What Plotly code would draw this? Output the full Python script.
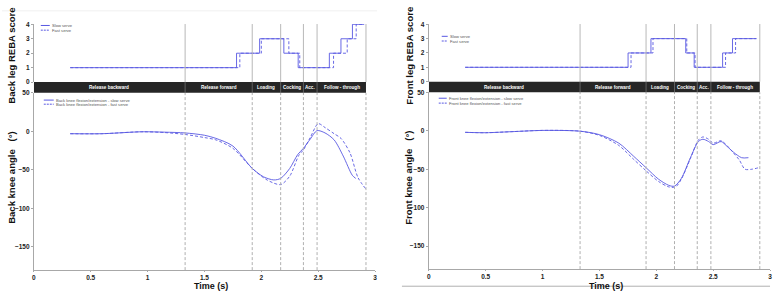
import plotly.graph_objects as go

W, H = 779, 298
BLUE = "#5858e2"
GREY = "#a8a8a8"
FONT = "Liberation Sans"

# ---------------- data ----------------
phase_names = ["Release backward", "Release forward", "Loading", "Cocking", "Acc.", "Follow - through"]
back_phase_bounds = [0, 1.33, 1.92, 2.17, 2.37, 2.49, 2.92]
front_phase_bounds = [0, 1.33, 1.91, 2.16, 2.36, 2.48, 2.91]

# Back leg REBA score (step series)
back_reba_slow_t = [0.32, 1.782, 1.985, 2.198, 2.324, 2.598, 2.700, 2.801, 2.904]
back_reba_slow_v = [1, 2, 3, 2, 1, 2, 3, 4, 4]
back_reba_fast_t = [0.32, 1.811, 2.000, 2.242, 2.338, 2.635, 2.755, 2.834, 2.904]
back_reba_fast_v = [1, 2, 3, 2, 1, 2, 3, 4, 4]

# Front leg REBA score
front_reba_slow_t = [0.32, 1.752, 1.953, 2.259, 2.333, 2.583, 2.670, 2.88]
front_reba_slow_v = [1, 2, 3, 2, 1, 2, 3, 3]
front_reba_fast_t = [0.32, 1.778, 1.971, 2.268, 2.341, 2.609, 2.697, 2.88]
front_reba_fast_v = [1, 2, 3, 2, 1, 2, 3, 3]

# Back knee angle (deg)
back_slow_t = [0.32, 0.6, 0.95, 1.15, 1.33, 1.5, 1.6, 1.75, 1.92, 2.02, 2.11, 2.17, 2.25, 2.32,
               2.37, 2.43, 2.49, 2.56, 2.64, 2.72, 2.80, 2.83]
back_slow_v = [-3, -3, -0.5, -1, -2, -5, -9, -19, -48, -59, -63, -61, -48, -30,
               -22, -10, 1, -2, -11, -32, -57, -61]
back_fast_t = [0.32, 0.6, 0.95, 1.15, 1.33, 1.5, 1.6, 1.75, 1.92, 2.05, 2.17, 2.25, 2.33, 2.37,
               2.43, 2.5, 2.56, 2.64, 2.70, 2.78, 2.85, 2.92]
back_fast_v = [-3, -3, -0.5, -1.5, -4, -8, -11, -22, -48, -63, -69, -58, -31, -24,
               -8, 10, 5, -3, -9, -28, -60, -75]

# Front knee angle (deg)
front_slow_t = [0.32, 0.5, 0.75, 1.0, 1.33, 1.5, 1.67, 1.8, 1.91, 2.02, 2.11, 2.16, 2.22, 2.3,
                2.37, 2.41, 2.46, 2.5, 2.57, 2.62, 2.68, 2.75, 2.81]
front_slow_v = [-2, -2.5, -1, 0.5, -0.5, -5, -16, -33, -48, -63, -71, -72, -62, -35,
                -14, -11, -14, -18, -14, -20, -28, -35, -35]
front_fast_t = [0.32, 0.5, 0.75, 1.0, 1.33, 1.5, 1.67, 1.8, 1.91, 2.02, 2.11, 2.17, 2.22, 2.3,
                2.37, 2.41, 2.46, 2.5, 2.57, 2.62, 2.68, 2.73, 2.78, 2.84, 2.90]
front_fast_v = [-2, -2.5, -1, 0.5, -0.5, -6, -19, -37, -52, -66, -73, -73, -63, -36,
                -12, -8, -11, -16, -13, -19, -29, -38, -50, -50, -48]

x_ticks = [0, 0.5, 1, 1.5, 2, 2.5, 3]
x_ticktext = ["0", "0.5", "1", "1.5", "2", "2.5", "3"]
reba_ticks = [0, 1, 2, 3, 4]
angle_ticks = [-150, -100, -50, 0, 50]


def px(x):
    return x / W


def py(y):
    return 1 - y / H


fig = go.Figure()


def add_pair(ts, vs, tf, vf, xa, ya, shape):
    sm = 0.8 if shape == "spline" else None
    fig.add_trace(go.Scatter(x=ts, y=vs, mode="lines", xaxis=xa, yaxis=ya,
                             line=dict(color=BLUE, width=0.9, shape=shape, smoothing=sm),
                             showlegend=False, hoverinfo="skip"))
    fig.add_trace(go.Scatter(x=tf, y=vf, mode="lines", xaxis=xa, yaxis=ya,
                             line=dict(color=BLUE, width=0.9, dash="3px,2px", shape=shape, smoothing=sm),
                             showlegend=False, hoverinfo="skip"))


add_pair(back_reba_slow_t, back_reba_slow_v, back_reba_fast_t, back_reba_fast_v, "x", "y", "hv")
add_pair(back_slow_t, back_slow_v, back_fast_t, back_fast_v, "x2", "y2", "spline")
add_pair(front_reba_slow_t, front_reba_slow_v, front_reba_fast_t, front_reba_fast_v, "x3", "y3", "hv")
add_pair(front_slow_t, front_slow_v, front_fast_t, front_fast_v, "x4", "y4", "spline")

tickfont = dict(family=FONT, size=6.5, color="#222", weight="bold")

panels = {
    "left": dict(x0=32, x1=375, top_t=20.5, top_b=80, bot_t=91, bot_b=272.5,
                 xa_top="x", ya_top="y", xa_bot="x2", ya_bot="y2", bounds=back_phase_bounds),
    "right": dict(x0=429, x1=772, top_t=20.5, top_b=79.5, bot_t=90.5, bot_b=271.5,
                  xa_top="x3", ya_top="y3", xa_bot="x4", ya_bot="y4", bounds=front_phase_bounds),
}

layout_axes = {}
shapes = []
annotations = []
for key, p in panels.items():
    xd = [px(p["x0"]), px(p["x1"])]
    ytop = [py(p["top_b"]), py(p["top_t"])]
    ybot = [py(p["bot_b"]), py(p["bot_t"])]
    nt = p["xa_top"].replace("x", "")
    nb = p["xa_bot"].replace("x", "")
    layout_axes["xaxis" + nt] = dict(domain=xd, anchor=p["ya_top"], range=[0, 3], visible=False)
    layout_axes["yaxis" + nt] = dict(domain=ytop, anchor=p["xa_top"], range=[0, 4.02],
                                     showline=True, linecolor=GREY, linewidth=1, ticks="outside",
                                     ticklen=2, tickcolor=GREY, tickvals=reba_ticks, tickfont=tickfont,
                                     showgrid=False, zeroline=False)
    layout_axes["xaxis" + nb] = dict(domain=xd, anchor=p["ya_bot"], range=[0, 3],
                                     showline=True, linecolor=GREY, linewidth=1, ticks="outside",
                                     ticklen=1, tickcolor=GREY, tickvals=x_ticks, ticktext=x_ticktext,
                                     tickfont=tickfont, showgrid=False, zeroline=False)
    layout_axes["yaxis" + nb] = dict(domain=ybot, anchor=p["xa_bot"], range=[-180, 50],
                                     showline=True, linecolor=GREY, linewidth=1, ticks="outside",
                                     ticklen=2, tickcolor=GREY, tickvals=angle_ticks, tickfont=tickfont,
                                     showgrid=False, zeroline=False)
    b = p["bounds"]
    for t in b[1:]:
        shapes.append(dict(type="line", xref=p["xa_top"], yref="paper", x0=t, x1=t,
                           y0=py(p["top_b"]), y1=py(p["top_t"]), line=dict(color="#b8b8b8", width=1)))
        shapes.append(dict(type="line", xref=p["xa_bot"], yref="paper", x0=t, x1=t,
                           y0=py(p["bot_b"]), y1=py(p["bot_t"]),
                           line=dict(color="#b0b0b0", width=1, dash="3px,2px")))
    shapes.append(dict(type="rect", xref=p["xa_top"], yref="paper", x0=0, x1=b[-1],
                       y0=py(p["bot_t"]), y1=py(p["top_b"]), fillcolor="#262626", line=dict(width=0),
                       layer="above"))
    for i, name in enumerate(phase_names):
        annotations.append(dict(text=name, xref=p["xa_top"], yref="paper",
                                x=(b[i] + b[i + 1]) / 2, y=py((p["bot_t"] + p["top_b"]) / 2),
                                showarrow=False, font=dict(family=FONT, size=4.6, color="white", weight="bold"),
                                xanchor="center", yanchor="middle"))
    for t in b[1:-1]:
        shapes.append(dict(type="line", xref=p["xa_top"], yref="paper", x0=t, x1=t,
                           y0=py(p["bot_t"]), y1=py(p["top_b"]), line=dict(color="#888", width=0.6),
                           layer="above"))
    annotations.append(dict(text="Time (s)", xref=p["xa_bot"], yref="paper", x=1.56, y=py(288.5),
                            showarrow=False, font=dict(family=FONT, size=9, color="#111", weight="bold"),
                            xanchor="center", yanchor="middle"))

NB = "\u00a0"
ytitles = [
    ("Back leg REBA score", 10, 53),
    ("Back knee angle" + NB * 3 + "(°)", 10, 177),
    ("Front leg REBA score", 410, 53),
    ("Front knee angle" + NB * 3 + "(°)", 409, 178),
]
for txt, x, y in ytitles:
    annotations.append(dict(text=txt, xref="paper", yref="paper", x=px(x), y=py(y), textangle=-90,
                            showarrow=False, font=dict(family=FONT, size=9.5, color="#111", weight="bold"),
                            xanchor="center", yanchor="middle"))

legends = [
    (39, 48, 22.0, "Slow serve", False), (39, 48, 26.8, "Fast serve", True),
    (42, 52, 98.4, "Back knee flexion/extension - slow serve", False),
    (42, 52, 102.6, "Back knee flexion/extension - fast serve", True),
    (442, 448, 33.1, "Slow serve", False), (442, 448, 37.9, "Fast serve", True),
    (439, 447, 96.5, "Front knee flexion/extension - slow serve", False),
    (439, 447, 101.5, "Front knee flexion/extension - fast serve", True),
]
for x0, x1, y, txt, dashed in legends:
    shapes.append(dict(type="line", xref="paper", yref="paper", x0=px(x0), x1=px(x1), y0=py(y), y1=py(y),
                       line=dict(color=BLUE, width=1, dash="2px,1px" if dashed else "solid")))
    annotations.append(dict(text=txt, xref="paper", yref="paper", x=px(x1 + 0.5), y=py(y), showarrow=False,
                            font=dict(family=FONT, size=4.1, color="#555"), xanchor="left", yanchor="middle"))

shapes.append(dict(type="line", xref="paper", yref="paper", x0=px(0), x1=px(377), y0=py(7), y1=py(7),
                   line=dict(color="#f0f0f0", width=1)))
shapes.append(dict(type="line", xref="paper", yref="paper", x0=px(402), x1=px(772), y0=py(289), y1=py(289),
                   line=dict(color="#b0b0b0", width=1)))

fig.update_layout(width=W, height=H, margin=dict(l=0, r=0, t=0, b=0),
                  paper_bgcolor="white", plot_bgcolor="white",
                  shapes=shapes, annotations=annotations, showlegend=False, **layout_axes)

fig.write_html("out.html", config={"displayModeBar": False},
               post_script="document.body.style.margin='0';document.body.style.padding='0';")
